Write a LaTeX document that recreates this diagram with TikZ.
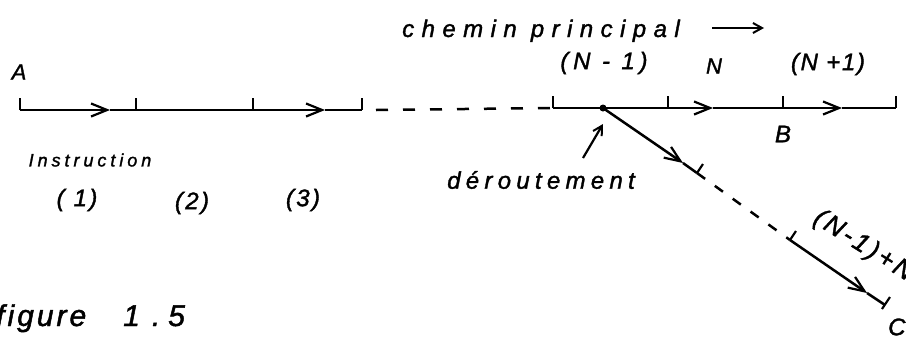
\documentclass[tikz,border=0pt]{standalone}
\usepackage{fontspec}
\newfontfamily\hand[FakeBold=1.5]{Liberation Sans}
\newcommand{\hf}[2]{\hand\itshape\fontsize{#1}{#1}\selectfont\addfontfeature{LetterSpace=#2}}
\usetikzlibrary{arrows.meta}
\begin{document}
\begin{tikzpicture}[x=1pt,y=-1pt,
  seg/.style={line width=2.5pt},
  arr/.style={line width=2.5pt,-{Straight Barb[length=16pt,width=13pt,line width=2.2pt]}},
  dashln/.style={line width=2.5pt,dash pattern=on 12pt off 15pt},
  tickln/.style={line width=2.2pt},
  thinarr/.style={line width=2.2pt,-{Straight Barb[length=9pt,width=10pt,line width=2pt]}},
  lbl/.style={inner sep=0pt}]
\useasboundingbox (0,0) rectangle (906,338);
% main line coordinates
\coordinate (a0) at (20,110);
\coordinate (m1) at (110,110);
\coordinate (t1) at (136,110);
\coordinate (t2) at (253,110);
\coordinate (m2) at (325,110);
\coordinate (t3) at (362,110);
\coordinate (d0) at (376,110);
\coordinate (u0) at (553,108);
\coordinate (dot) at (603,108);
\coordinate (u1) at (668,108);
\coordinate (m3) at (713,108);
\coordinate (u2) at (783,108);
\coordinate (m4) at (842,108);
\coordinate (u3) at (896,108);
% branch
\coordinate (b1) at (683,163);
\coordinate (bt) at (697,173);
\coordinate (bs) at (790,240);
\coordinate (b2) at (867,293);
\coordinate (be) at (885,305);
% segments
\draw[arr] (a0) -- (m1);
\draw[seg] (m1) -- (t1) -- (t2);
\draw[arr] (t2) -- (m2);
\draw[seg] (m2) -- (t3);
\draw[dashln] (d0) -- (u0);
\draw[seg] (u0) -- (dot) -- (u1);
\draw[arr] (u1) -- (m3);
\draw[seg] (m3) -- (u2);
\draw[arr] (u2) -- (m4);
\draw[seg] (m4) -- (u3);
\fill (dot) circle (3.5pt);
\draw[arr] (dot) -- (b1);
\draw[seg] (b1) -- (bt);
\draw[dashln,dash pattern=on 10pt off 12pt] (bt) -- (bs);
\draw[arr] (bs) -- (b2);
\draw[seg] (b2) -- (be);
% ticks
\foreach \p in {a0,t1,t2,t3,u0,u1,u2,u3}
  \draw[tickln] (\p) -- ++(0,-12);
\foreach \p in {bt,bs}
  \draw[tickln] (\p) -- ++(6,-9);
\draw[tickln] (be) ++(-3,4) -- ++(8,-12);
% labels
\node[lbl,anchor=base,font=\hf{24}{31}] (chem) at (541,37) {chemin principal};
\coordinate (ca) at (712,28);
\coordinate (cb) at (764,28);
\draw[thinarr] (ca) -- (cb);
\node[lbl,font=\hf{22}{0}] (A) at (19,72) {A};
\node[lbl,font=\hf{24}{20}] (nm1) at (604,63) {(N - 1)};
\node[lbl,font=\hf{22}{0}] (n) at (714,66) {N};
\node[lbl,font=\hf{24}{7}] (np1) at (828,64) {(N +1)};
\node[lbl,font=\hf{24}{0}] (B) at (783,134) {B};
\node[lbl,font=\hf{18}{22}] (ins) at (90,160) {Instruction};
\node[lbl,font=\hf{24}{10}] (i1) at (77,200) {( 1)};
\node[lbl,font=\hf{24}{10}] (i2) at (192,203) {(2)};
\node[lbl,font=\hf{24}{10}] (i3) at (303,200) {(3)};
\node[lbl,font=\hf{24}{22}] (der) at (541,180) {déroutement};
\coordinate (da) at (583,158);
\coordinate (db) at (603,124);
\draw[thinarr] (da) -- (db);
\node[lbl,rotate=-32,anchor=base west,font=\hf{26}{12}] (lab) at (812,222) {(N-1)+N};
\node[lbl,anchor=base west,font=\hf{30}{10}] (fig) at (-4,326) {figure\hspace{37pt}1\hspace{12pt}.\hspace{8pt}5};
\node[lbl,anchor=west,font=\hf{24}{0}] (C) at (888,327) {C};
\end{tikzpicture}
\end{document}
